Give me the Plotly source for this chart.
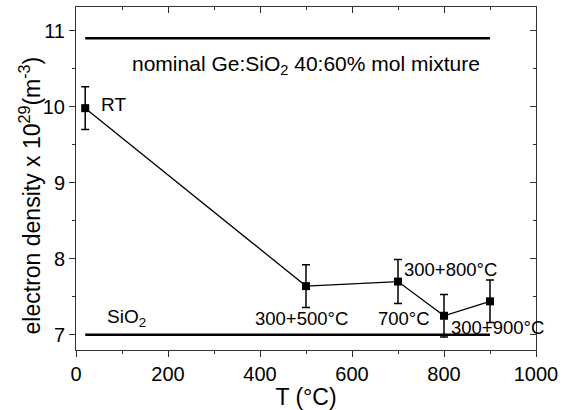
import plotly.graph_objects as go

# Data
temps = [20, 500, 700, 800, 900]
density = [9.98, 7.64, 7.70, 7.25, 7.44]
errors = [0.28, 0.28, 0.29, 0.28, 0.28]

nominal_x = [20, 900]
nominal_y = [10.9, 10.9]
sio2_x = [20, 900]
sio2_y = [7.0, 7.0]

labels = ["RT", "nominal Ge:SiO<sub>2</sub> 40:60% mol mixture", "SiO<sub>2</sub>",
          "300+500°C", "700°C", "300+800°C", "300+900°C"]
label_x = [49, 501, 62, 385, 652, 709, 810]
label_y = [10.03, 10.55, 7.22, 7.21, 7.22, 7.86, 7.10]
label_anchor = ["left", "center", "left", "left", "left", "left", "left"]
label_size = [19, 21, 19, 18.5, 18.5, 18.5, 18.5]

y_title = "electron density x 10<sup>29</sup>(m<sup>-3</sup>)"

FONT = "Liberation Sans, Arial, sans-serif"
AX = "#333333"

fig = go.Figure()
fig.add_trace(go.Scatter(x=nominal_x, y=nominal_y, mode="lines",
                         line=dict(color="black", width=2.5), showlegend=False))
fig.add_trace(go.Scatter(x=sio2_x, y=sio2_y, mode="lines",
                         line=dict(color="black", width=2.5), showlegend=False))
fig.add_trace(go.Scatter(x=temps, y=density, mode="lines+markers",
                         line=dict(color="black", width=1.3),
                         marker=dict(symbol="square", size=8, color="black"),
                         error_y=dict(type="data", array=errors, visible=True,
                                      color="black", thickness=1.5, width=4),
                         showlegend=False))
# mirror axes (top/right, ticks inside)
fig.add_trace(go.Scatter(x=[], y=[], xaxis="x2", yaxis="y2", showlegend=False))

for t, x, y, a, s in zip(labels, label_x, label_y, label_anchor, label_size):
    fig.add_annotation(x=x, y=y, text=t, showarrow=False, xanchor=a, yanchor="middle",
                       font=dict(family=FONT, size=s, color="black"))

# y-axis title (placed as rotated text to match the reference offset)
fig.add_annotation(x=-0.099, y=0.452, xref="paper", yref="paper", text=y_title,
                   textangle=-90, showarrow=False, xanchor="center", yanchor="middle",
                   font=dict(family=FONT, size=23, color="black"))

common = dict(showgrid=False, zeroline=False, showline=True, linecolor=AX, linewidth=1,
              tickcolor=AX, ticklen=6, tickwidth=1)
fig.update_layout(
    width=565, height=410,
    margin=dict(l=76, r=24, t=7, b=60),
    paper_bgcolor="white", plot_bgcolor="white",
    font=dict(family=FONT, size=20, color="black"),
    xaxis=dict(range=[0, 1000], dtick=200, ticks="outside",
               minor=dict(dtick=100, ticks="outside", ticklen=3, tickcolor=AX),
               title=dict(text="T (°C)", font=dict(size=23), standoff=2),
               **common),
    yaxis=dict(range=[6.8, 11.31], dtick=1, ticks="outside",
               minor=dict(dtick=0.5, ticks="outside", ticklen=3, tickcolor=AX),
               **common),
    xaxis2=dict(overlaying="x", side="top", matches="x", range=[0, 1000], dtick=200,
                ticks="inside", showticklabels=False,
                minor=dict(dtick=100, ticks="inside", ticklen=3, tickcolor=AX),
                **common),
    yaxis2=dict(overlaying="y", side="right", matches="y", range=[6.8, 11.31], dtick=1,
                ticks="inside", showticklabels=False,
                minor=dict(dtick=0.5, ticks="inside", ticklen=3, tickcolor=AX),
                **common),
)
fig.write_html("out.html")
